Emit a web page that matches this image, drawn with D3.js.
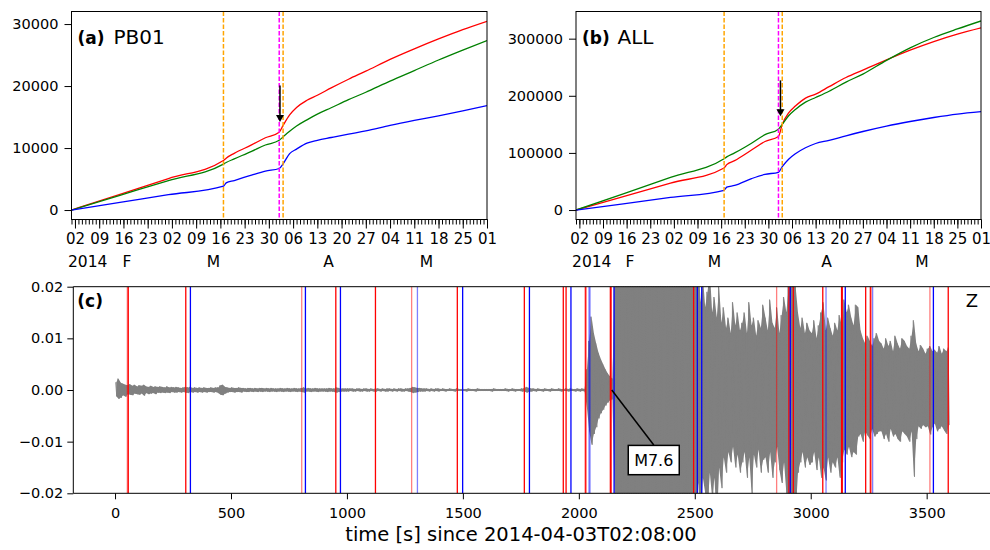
<!DOCTYPE html>
<html><head><meta charset="utf-8">
<script src="https://cdn.jsdelivr.net/npm/d3@7"></script>
<style>
body{margin:0;background:#fff;}
svg{display:block;font-family:"DejaVu Sans",sans-serif;}
</style></head><body>
<svg id="chart" width="990" height="550"></svg>
<script>
// ---------------- DATA ----------------
// sampling dates shared by panels (a) and (b)
const sampleDates = ["2014-02-01T00:00Z","2014-02-15T00:00Z","2014-03-01T00:00Z","2014-03-16T21:00Z","2014-03-17T16:00Z",
  "2014-03-20T00:00Z","2014-03-25T00:00Z","2014-03-29T00:00Z","2014-04-01T23:40Z","2014-04-03T02:40Z","2014-04-05T00:00Z",
  "2014-04-07T00:00Z","2014-04-10T00:00Z","2014-04-13T00:00Z","2014-04-17T00:00Z","2014-04-22T00:00Z","2014-04-27T00:00Z",
  "2014-05-04T00:00Z","2014-05-11T00:00Z","2014-05-18T00:00Z","2014-05-25T00:00Z","2014-06-01T00:00Z"];
// (a) PB01 cumulative counts
const redA   = [0,2540,5070,7990,8370,9150,10500,11660,12550,13650,15350,16550,17700,18520,19700,21100,22400,24300,26000,27600,29100,30450];
const greenA = [0,2380,4760,7410,7670,8250,9470,10490,11250,11800,12700,13550,14550,15470,16500,17800,19000,20800,22500,24200,25800,27350];
const blueA  = [0,1230,2470,3840,4380,4760,5640,6290,6700,7460,9100,9830,10780,11250,11700,12250,12770,13650,14450,15200,16000,16850];
// (b) ALL cumulative counts
const redB   = [0,23500,47000,73700,79500,86500,105000,120000,128800,150000,170000,182000,196000,203000,216000,232000,245000,263000,280000,295000,308000,319000];
const greenB = [0,28500,57000,89900,93000,100000,117000,132000,141600,150000,165000,176000,189000,197000,208000,224000,238000,262000,284000,302000,317000,331000];
const blueB  = [0,10900,22000,34500,40000,43000,55000,62500,66100,76000,89000,98500,109000,116500,122000,130000,137500,147000,155000,162000,168000,172300];

const timeRange = ["2014-02-01T00:00Z","2014-06-01T00:00Z"];
const quakeForeshock = ["2014-03-16T21:16Z","2014-04-03T02:43Z"];   // orange dashed
const quakeMain = ["2014-04-01T23:46Z"];                             // magenta dashed
const yTicksA = [0,10000,20000,30000];
const yTicksB = [0,100000,200000,300000];
const monthLabelText  = ["2014","F","M","A","M"];
const monthLabelDates = ["2014-02-05T16:00Z","2014-02-17T00:00Z","2014-03-14T00:00Z","2014-04-16T06:00Z","2014-05-14T12:00Z"];
const arrowA = {date:"2014-04-02T05:00Z", from:20100, to:14200};
const arrowB = {date:"2014-04-02T14:00Z", from:227000, to:164000};

// (c) waveform envelope, 10 s bins starting at t=0, amplitude in units of 1e-4
const waveBin = 10;
const waveUnit = 1e-4;
const waveMax = [
 15,22,14,12,10,9,11,8,10,7,  9,8,10,7,6,8,6,7,6,7,  6,5,7,5,6,5,6,5,4,5,  6,5,6,4,5,4,5,4,5,4,
 4,5,4,5,5,9,10,6,5,4,  5,4,4,5,4,4,3,4,4,3,  4,3,4,4,3,4,3,4,3,3,  3,4,3,3,4,3,3,4,3,3,
 4,5,3,4,3,3,4,3,3,3,  3,3,4,3,3,5,4,3,3,3,  3,3,3,2,3,3,2,3,3,2,  3,2,3,3,2,3,2,3,3,2,
 3,2,3,3,2,3,3,4,6,5,  4,4,3,3,3,2,3,2,3,3,  2,3,2,2,3,2,2,3,2,2,  2,2,3,2,2,2,3,2,2,2,
 2,2,2,3,2,2,2,2,3,2,  2,3,2,2,2,3,3,6,4,3,  3,2,3,2,2,3,2,2,3,2,  2,3,2,2,3,2,3,2,2,3,
 2,3,2,40,95,142,110,90,72,60,  50,40,32,26,22,200,260,260,260,260,
 260,260,260,260,260,260,260,260,260,260,  260,260,260,260,260,260,260,260,260,260,
 260,260,260,230,260,260,240,260,260,250,  200,260,170,220,160,190,230,150,180,140,
 200,130,160,120,140,110,170,125,150,115,  130,150,110,170,125,140,105,135,120,165,
 140,115,175,130,120,160,110,145,180,150,  200,260,260,200,150,120,140,110,130,115,
 110,135,100,125,150,170,115,140,120,105,  130,115,145,120,175,150,165,140,125,165,
 160,115,100,90,105,95,85,100,110,95,  90,80,100,85,95,75,105,90,80,100,
 95,85,80,105,135,90,75,87,80,70,  80,85,75,78,72,85,70,80,75,82];
const waveMin = [
 -12,-17,-15,-10,-13,-8,-9,-10,-7,-8,  -9,-7,-11,-6,-8,-7,-6,-8,-5,-6,  -5,-6,-5,-6,-4,-5,-5,-4,-5,-4,  -5,-6,-4,-5,-4,-5,-4,-5,-4,-5,
 -4,-4,-5,-4,-6,-9,-10,-7,-5,-4,  -4,-5,-4,-4,-5,-3,-4,-4,-3,-4,  -3,-4,-3,-4,-3,-3,-4,-3,-3,-4,  -3,-3,-4,-3,-3,-4,-3,-3,-4,-3,
 -4,-5,-3,-3,-4,-3,-3,-4,-3,-3,  -3,-4,-3,-3,-4,-5,-4,-3,-3,-3,  -3,-2,-3,-3,-2,-3,-3,-2,-3,-3,  -2,-3,-3,-2,-3,-2,-3,-3,-2,-3,
 -2,-3,-2,-3,-3,-2,-3,-4,-6,-5,  -4,-3,-3,-3,-2,-3,-2,-3,-2,-3,  -2,-2,-3,-2,-2,-2,-3,-2,-2,-2,  -2,-3,-2,-2,-2,-3,-2,-2,-2,-2,
 -2,-2,-3,-2,-2,-2,-2,-2,-2,-3,  -2,-2,-3,-2,-2,-3,-3,-5,-4,-3,  -2,-3,-2,-2,-3,-2,-2,-3,-2,-2,  -2,-2,-3,-2,-2,-3,-2,-2,-3,-2,
 -3,-2,-3,-35,-80,-106,-85,-72,-55,-45,  -38,-30,-24,-20,-18,-220,-260,-260,-260,-260,
 -260,-260,-260,-260,-260,-260,-260,-260,-260,-260,  -260,-260,-230,-260,-260,-250,-260,-260,-240,-260,
 -260,-240,-260,-260,-220,-260,-260,-230,-260,-260,  -220,-180,-260,-170,-200,-230,-160,-210,-170,-260,
 -150,-190,-130,-160,-120,-140,-110,-150,-125,-160,  -140,-120,-170,-130,-200,-125,-150,-115,-160,-135,
 -130,-160,-120,-170,-140,-110,-155,-180,-140,-200,  -220,-260,-260,-240,-160,-140,-120,-150,-130,-145,
 -140,-120,-155,-130,-170,-150,-175,-130,-160,-140,  -150,-130,-170,-140,-115,-125,-110,-130,-120,-125,
 -90,-85,-100,-80,-88,-95,-75,-90,-85,-80,  -80,-95,-85,-100,-75,-90,-85,-95,-100,-80,
 -85,-90,-100,-80,-168,-95,-70,-75,-68,-72,  -70,-86,-72,-65,-80,-75,-70,-78,-85,-68];
// detected events (s since 2014-04-03T02:08:00)
const redEvents   = [57,305,952,1123,1476,1765,1933,1945,2030,2136,2139,2495,2906,2925,3052,3133,3136,3237,3259,3593];
const redEventsFaint  = [53,805,1279,2027,2853,3256,3514];
const blueEvents  = [325,821,972,1499,1787,1966,2152,2511,2530,2912,3149,3529];
const blueEventsFaint = [1304,2044,2048,3066,3267];
const annotation = {label:"M7.6", t:2142, v:0};
const xTicksC = [0,500,1000,1500,2000,2500,3000,3500];
const yTicksC = [-0.02,-0.01,0,0.01,0.02];

// ---------------- DRAW ----------------
const svg = d3.select("#chart");
const iso = d3.isoParse;

function timePanel(cfg){
  const x = d3.scaleUtc().domain(timeRange.map(iso)).range([cfg.left,cfg.right]);
  const y = d3.scaleLinear().domain(cfg.yDomain).range([cfg.bottom,cfg.top]);
  const g = svg.append("g");
  const cid = "clip"+cfg.id;
  svg.append("clipPath").attr("id",cid).append("rect")
    .attr("x",cfg.left).attr("y",cfg.top).attr("width",cfg.right-cfg.left).attr("height",cfg.bottom-cfg.top);
  const plot = g.append("g").attr("clip-path",`url(#${cid})`);
  const line = d3.line().x(d=>x(d[0])).y(d=>y(d[1])).curve(d3.curveMonotoneX);
  const ds = sampleDates.map(iso);
  [[cfg.red,"#ff0000"],[cfg.green,"#008000"],[cfg.blue,"#0000ff"]].forEach(([vals,col])=>{
    plot.append("path").attr("d",line(ds.map((d,i)=>[d,vals[i]])))
      .attr("fill","none").attr("stroke",col).attr("stroke-width",1.3).attr("stroke-linejoin","round");
  });
  quakeForeshock.forEach(s=>{
    plot.append("line").attr("x1",x(iso(s))).attr("x2",x(iso(s))).attr("y1",cfg.top).attr("y2",cfg.bottom)
      .attr("stroke","#ffa500").attr("stroke-width",1.5).attr("stroke-dasharray","4.5,2");
  });
  quakeMain.forEach(s=>{
    plot.append("line").attr("x1",x(iso(s))).attr("x2",x(iso(s))).attr("y1",cfg.top).attr("y2",cfg.bottom)
      .attr("stroke","#ff00ff").attr("stroke-width",1.5).attr("stroke-dasharray","4.5,2");
  });
  // arrow
  const ax = x(iso(cfg.arrow.date)), ay1 = y(cfg.arrow.from), ay2 = y(cfg.arrow.to);
  g.append("line").attr("x1",ax).attr("x2",ax).attr("y1",ay1).attr("y2",ay2-6)
    .attr("stroke","#000").attr("stroke-width",1.5);
  g.append("path").attr("d",`M${ax-4},${ay2-7}L${ax+4},${ay2-7}L${ax},${ay2}Z`).attr("fill","#000");
  // frame
  g.append("rect").attr("x",cfg.left).attr("y",cfg.top).attr("width",cfg.right-cfg.left).attr("height",cfg.bottom-cfg.top)
    .attr("fill","none").attr("stroke","#000").attr("stroke-width",1);
  // y axis
  const yAx = g.append("g").attr("transform",`translate(${cfg.left},0)`)
    .call(d3.axisLeft(y).tickValues(cfg.yTicks).tickSize(7).tickPadding(6).tickFormat(d3.format("d")));
  yAx.select(".domain").remove();
  yAx.selectAll("text").attr("font-size",14.5).attr("font-family","DejaVu Sans").attr("fill","#000");
  // x minor ticks
  const xEnd = new Date(iso(timeRange[1]).getTime()+1);
  const xMin = g.append("g").attr("transform",`translate(0,${cfg.bottom})`)
    .call(d3.axisBottom(x).tickValues(d3.utcDay.range(iso(timeRange[0]),xEnd)).tickSize(5).tickFormat(""));
  xMin.select(".domain").remove();
  const xMaj = g.append("g").attr("transform",`translate(0,${cfg.bottom})`)
    .call(d3.axisBottom(x).tickValues(d3.utcSunday.range(iso(timeRange[0]),xEnd)).tickSize(9).tickPadding(5).tickFormat(d3.utcFormat("%d")));
  xMaj.select(".domain").remove();
  xMaj.selectAll("text").attr("font-size",15).attr("font-family","DejaVu Sans").attr("fill","#000");
  g.selectAll(".tick line").attr("stroke","#000");
  // month row
  g.selectAll("text.month").data(monthLabelText).join("text").attr("class","month")
    .attr("x",(d,i)=>x(iso(monthLabelDates[i]))).attr("y",cfg.bottom+47)
    .attr("text-anchor","middle").attr("font-size",15.5).text(d=>d);
  // panel label
  g.append("text").attr("x",cfg.left+6).attr("y",cfg.top+32).attr("font-size",17).attr("font-weight","bold").text(cfg.label);
  g.append("text").attr("x",cfg.left+cfg.nameOffset).attr("y",cfg.top+32).attr("font-size",20).text(cfg.name);
}

timePanel({id:"a",left:71.5,right:487,top:11.5,bottom:219.5,yDomain:[-1525,32025],yTicks:yTicksA,
  red:redA,green:greenA,blue:blueA,label:"(a)",name:"PB01",nameOffset:42,arrow:arrowA});
timePanel({id:"b",left:576,right:981,top:11.5,bottom:219.5,yDomain:[-16550,347550],yTicks:yTicksB,
  red:redB,green:greenB,blue:blueB,label:"(b)",name:"ALL",nameOffset:41.5,arrow:arrowB});

// ---- panel (c)
(function(){
  const L=73.3,R=991.6,T=286.7,B=493.3;
  const x = d3.scaleLinear().domain([-180,3780]).range([L,R]);
  const y = d3.scaleLinear().domain([-0.02,0.02]).range([B,T]);
  const g = svg.append("g");
  svg.append("clipPath").attr("id","clipc").append("rect").attr("x",L).attr("y",T).attr("width",R-L).attr("height",B-T);
  const plot = g.append("g").attr("clip-path","url(#clipc)");
  const bins = waveMax.map((mx,i)=>({t:i*waveBin, hi:mx*waveUnit, lo:waveMin[i]*waveUnit}));
  // filled envelope
  plot.append("path").attr("d",d3.area().x(d=>x(d.t+waveBin/2)).y0(d=>y(d.lo)).y1(d=>y(d.hi))(bins))
    .attr("fill","#808080").attr("stroke","none");
  // oscillation trace through the same bin extremes
  const pts = [];
  bins.forEach(b=>{ pts.push([b.t+waveBin*0.25,b.hi]); pts.push([b.t+waveBin*0.75,b.lo]); });
  plot.append("path").attr("d",d3.line().x(d=>x(d[0])).y(d=>y(d[1]))(pts))
    .attr("fill","none").attr("stroke","#808080").attr("stroke-width",0.8);
  const ev = (arr,col,op)=>arr.forEach(t=>{
    plot.append("line").attr("x1",x(t)).attr("x2",x(t)).attr("y1",T).attr("y2",B)
      .attr("stroke",col).attr("stroke-opacity",op).attr("stroke-width",1.3);
  });
  ev(redEventsFaint,"#ff0000",0.5);
  ev(blueEventsFaint,"#0000ff",0.5);
  ev(redEvents,"#ff0000",1);
  ev(blueEvents,"#0000ff",1);
  // annotation
  const px = x(annotation.t), py = y(annotation.v);
  const bx = px+42, by = py+70;
  g.append("line").attr("x1",px).attr("y1",py).attr("x2",bx).attr("y2",by-15).attr("stroke","#000").attr("stroke-width",1.5);
  g.append("rect").attr("x",bx-25.5).attr("y",by-14.6).attr("width",51).attr("height",29.3)
    .attr("fill","#fff").attr("stroke","#000").attr("stroke-width",1.5);
  g.append("text").attr("x",bx).attr("y",by+6).attr("text-anchor","middle").attr("font-size",16).text(annotation.label);
  // frame
  g.append("path").attr("d",`M${R},${T}H${L}V${B}H${R}`).attr("fill","none").attr("stroke","#000").attr("stroke-width",1);
  const yAx = g.append("g").attr("transform",`translate(${L},0)`)
    .call(d3.axisLeft(y).tickValues(yTicksC).tickSize(6).tickPadding(4).tickFormat(d3.format(".2f")));
  yAx.select(".domain").remove();
  yAx.selectAll("text").attr("font-size",14.5).attr("font-family","DejaVu Sans").attr("fill","#000");
  const xAx = g.append("g").attr("transform",`translate(0,${B})`)
    .call(d3.axisBottom(x).tickValues(xTicksC).tickSize(6).tickPadding(8).tickFormat(d3.format("d")));
  xAx.select(".domain").remove();
  xAx.selectAll("text").attr("font-size",14.5).attr("font-family","DejaVu Sans").attr("fill","#000");
  g.selectAll(".tick line").attr("stroke","#000");
  g.append("text").attr("x",L+4).attr("y",T+20).attr("font-size",17).attr("font-weight","bold").text("(c)");
  g.append("text").attr("x",978).attr("y",T+20).attr("text-anchor","end").attr("font-size",18).text("Z");
  g.append("text").attr("x",521).attr("y",541).attr("text-anchor","middle").attr("font-size",19.5)
    .text("time [s] since 2014-04-03T02:08:00");
})();
</script>
</body></html>
